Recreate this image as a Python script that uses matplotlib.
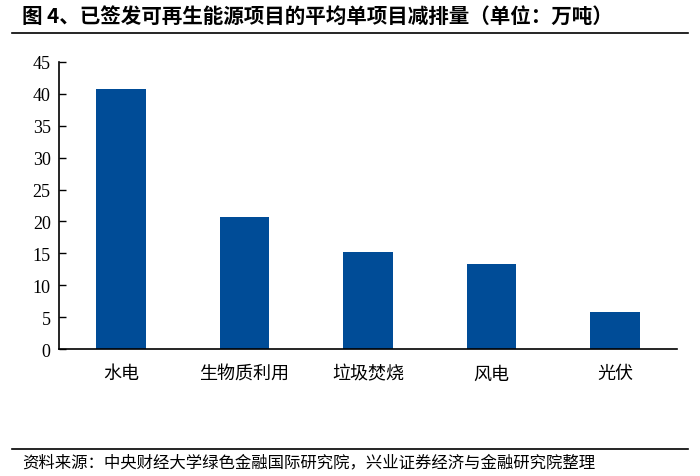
import matplotlib
matplotlib.use('Agg')
import matplotlib.pyplot as plt
from matplotlib.lines import Line2D

plt.rcParams['font.family'] = ['Noto Sans CJK SC', 'DejaVu Sans']

# 数据
categories = ['水电', '生物质利用', '垃圾焚烧', '风电', '光伏']
values = [40.8, 20.7, 15.2, 13.3, 5.8]
yticks = [0, 5, 10, 15, 20, 25, 30, 35, 40, 45]

title = '图 4、已签发可再生能源项目的平均单项目减排量（单位：万吨）'
source = '资料来源：中央财经大学绿色金融国际研究院，兴业证券经济与金融研究院整理'
bar_color = '#004C97'

fig = plt.figure(figsize=(7, 4.77), dpi=100)
ax = fig.add_axes([0.0843, 0.2662, 0.8827, 0.6018])

x = list(range(len(categories)))
ax.bar(x, values, width=0.4, color=bar_color)

ax.set_xlim(-0.5, len(categories) - 0.5)
ax.set_ylim(0, 45)
ax.set_yticks(yticks)
ax.set_yticklabels([str(v) for v in yticks], family='Liberation Serif', fontsize=13)
ax.set_xticks(x)
ax.set_xticklabels(categories, fontsize=13)
ax.tick_params(axis='y', direction='in', length=5, width=1, pad=6)
ax.tick_params(axis='x', length=0, pad=11)

for s in ['top', 'right']:
    ax.spines[s].set_visible(False)
ax.spines['left'].set_linewidth(1.2)
ax.spines['bottom'].set_linewidth(1.2)

# 标题和分割线
fig.text(22 / 700, 1 - 16 / 477, title, fontsize=14.8, fontweight='bold', va='center', ha='left')
fig.add_artist(Line2D([12 / 700, 688 / 700], [1 - 34 / 477, 1 - 34 / 477], color='black', lw=1.2))

# 资料来源
fig.add_artist(Line2D([12 / 700, 688 / 700], [1 - 450 / 477, 1 - 450 / 477], color='black', lw=1.2))
fig.text(22 / 700, 1 - 463 / 477, source, fontsize=11.8, va='center', ha='left')

fig.savefig('out.png', dpi=100)
